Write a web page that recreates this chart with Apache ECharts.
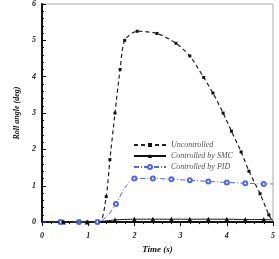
<!DOCTYPE html>
<html>
<head>
<meta charset="utf-8">
<script src="https://cdn.jsdelivr.net/npm/echarts@6/dist/echarts.min.js"></script>
<style>
html, body { margin: 0; padding: 0; background: #fff; }
#main { width: 279px; height: 259px; }
</style>
</head>
<body>
<div id="main"></div>
<script>
// roll angle curves, [time, deg]
var uncontrolled = [[0, 0], [0.46, 0], [0.98, 0], [1.25, 0], [1.39, 0.7], [1.47, 1.72], [1.58, 3.0], [1.69, 4.2],
    [1.79, 5.0], [2.06, 5.25], [2.49, 5.19], [2.9, 4.92], [3.2, 4.57], [3.5, 3.98], [3.7, 3.55], [3.92, 3.0],
    [4.1, 2.5], [4.31, 1.93], [4.48, 1.4], [4.72, 0.78], [4.91, 0.2], [5, 0]];
var uncontrolledNoMark = [0, 3, 21];

var smc = [[0, 0], [0.46, 0], [0.98, 0], [1.3, 0.02], [1.58, 0.06], [2.0, 0.08], [2.4, 0.08], [2.8, 0.08],
    [3.2, 0.08], [3.6, 0.08], [4.0, 0.08], [4.4, 0.07], [4.8, 0.07], [5, 0.06]];
var smcNoMark = [0, 3, 13];

var pid = [[0, 0], [0.4, 0], [0.8, 0], [1.2, 0], [1.4, 0.15], [1.6, 0.5], [1.8, 0.95], [2.0, 1.2], [2.4, 1.2],
    [2.8, 1.18], [3.2, 1.15], [3.6, 1.12], [4.0, 1.09], [4.4, 1.07], [4.8, 1.05], [5, 1.05]];
var pidNoMark = [0, 4, 6, 15];

var xTicks = [0, 1, 2, 3, 4, 5];
var yTicks = [0, 1, 2, 3, 4, 5, 6];

function build(arr, hide) {
    return arr.map(function (p, i) {
        return hide.indexOf(i) >= 0 ? {value: p, symbol: 'none'} : {value: p};
    });
}

var myChart = echarts.init(document.getElementById('main'));

var serif = '"Liberation Serif", "DejaVu Serif", serif';
var tickLabel = {fontFamily: serif, fontStyle: 'italic', fontWeight: 'bold', fontSize: 8, color: '#222'};

var option = {
    animation: false,
    grid: {
        left: 42,
        right: 6,
        top: 2,
        bottom: 34,
        show: true,
        borderColor: '#aaa',
        borderWidth: 1
    },
    legend: {
        orient: 'vertical',
        left: 128,
        top: 136,
        itemWidth: 32,
        itemHeight: 5,
        itemGap: 3,
        textStyle: {fontFamily: serif, fontStyle: 'italic', fontSize: 8, color: '#555'},
        data: ['Uncontrolled', 'Controlled by SMC', 'Controlled by PID']
    },
    xAxis: {
        type: 'value',
        min: 0,
        max: 5,
        interval: 1,
        name: 'Time (s)',
        nameLocation: 'middle',
        nameGap: 21,
        nameTextStyle: {fontFamily: serif, fontStyle: 'italic', fontWeight: 'bold', fontSize: 9, color: '#111'},
        axisLine: {lineStyle: {color: '#111', width: 2}},
        axisTick: {length: 4, lineStyle: {color: '#111'}},
        minorTick: {show: true, splitNumber: 5, length: 2, lineStyle: {color: '#111'}},
        splitLine: {show: false},
        axisLabel: Object.assign({margin: 10, formatter: function (v) { return xTicks.indexOf(v) >= 0 ? v : ''; }}, tickLabel)
    },
    yAxis: {
        type: 'value',
        min: 0,
        max: 6,
        interval: 1,
        name: 'Roll angle (deg)',
        nameLocation: 'middle',
        nameGap: 20,
        nameTextStyle: {fontFamily: serif, fontStyle: 'italic', fontWeight: 'bold', fontSize: 8, color: '#111'},
        axisLine: {lineStyle: {color: '#111', width: 2}},
        axisTick: {inside: true, length: 4, lineStyle: {color: '#111'}},
        minorTick: {show: true, splitNumber: 5, length: 2, lineStyle: {color: '#111'}},
        splitLine: {show: false},
        axisLabel: Object.assign({margin: 6, formatter: function (v) { return yTicks.indexOf(v) >= 0 ? v : ''; }}, tickLabel)
    },
    series: [
        {
            name: 'Uncontrolled',
            type: 'line',
            smooth: 0.25,
            symbol: 'rect',
            symbolSize: 3,
            itemStyle: {color: '#111'},
            lineStyle: {color: '#222', width: 1.2, type: [4, 3]},
            data: build(uncontrolled, uncontrolledNoMark),
            z: 3
        },
        {
            name: 'Controlled by SMC',
            type: 'line',
            smooth: 0.2,
            symbol: 'triangle',
            symbolSize: 5,
            itemStyle: {color: '#111'},
            lineStyle: {color: '#111', width: 1},
            data: build(smc, smcNoMark),
            z: 2
        },
        {
            name: 'Controlled by PID',
            type: 'line',
            smooth: 0.3,
            symbol: 'emptyCircle',
            symbolSize: 4,
            itemStyle: {color: '#5566ee', borderWidth: 0.8},
            lineStyle: {color: '#5566ee', width: 1, type: [5, 2, 1, 2]},
            data: build(pid, pidNoMark),
            z: 2
        }
    ]
};

myChart.setOption(option, true);
window.onresize = myChart.resize;
</script>
</body>
</html>
